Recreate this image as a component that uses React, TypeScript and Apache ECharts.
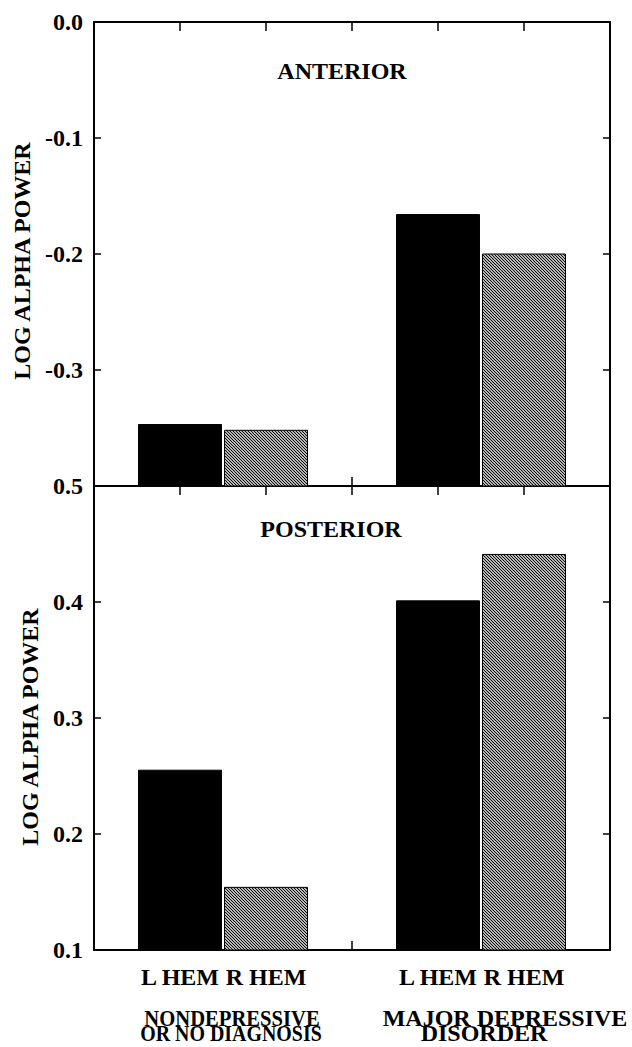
import React, { useEffect, useRef } from 'react';
import * as echarts from 'echarts';

// ---- data ----
const xTickLabels = ['', 'L HEM', 'R HEM', '', 'L HEM', 'R HEM', ''];
const barPositions = [1, 2, 4, 5];
const barKinds = [0, 1, 0, 1]; // 0 = L HEM (black), 1 = R HEM (hatched)
const anteriorValues = [-0.347, -0.352, -0.166, -0.2];
const posteriorValues = [0.255, 0.154, 0.401, 0.441];
const anteriorTickLabels = ['0.0', '-0.1', '-0.2', '-0.3', ''];
const posteriorTickLabels = ['0.5', '0.4', '0.3', '0.2', '0.1'];
const panelTitles = ['ANTERIOR', 'POSTERIOR'];
const yAxisTitle = 'LOG ALPHA POWER';
const groupLabels = [
  ['NONDEPRESSIVE', 'OR NO DIAGNOSIS'],
  ['MAJOR DEPRESSIVE', 'DISORDER'],
];

const FONT_FAMILY = 'Liberation Serif';
const font = (size: number) => `bold ${size}px ${FONT_FAMILY}`;

export default function App() {
  const ref = useRef<HTMLDivElement>(null);

  useEffect(() => {
    document.body.style.margin = '0';
    document.body.style.overflow = 'hidden';
    const el = ref.current!;
    const chart = echarts.init(el, null, { renderer: 'svg' });

    const canvas = document.createElement('canvas');
    canvas.width = 3;
    canvas.height = 3;
    const ctx = canvas.getContext('2d')!;
    ctx.fillStyle = '#ffffff';
    ctx.fillRect(0, 0, 3, 3);
    ctx.strokeStyle = '#000000';
    ctx.lineWidth = 1.1;
    ctx.beginPath();
    ctx.moveTo(-1, -1);
    ctx.lineTo(4, 4);
    ctx.moveTo(-1, 2);
    ctx.lineTo(1, 4);
    ctx.moveTo(2, -1);
    ctx.lineTo(4, 1);
    ctx.stroke();
    const hatch: any = { image: canvas, repeat: 'repeat' };

    const makeRender = (yMin: number) => (params: any, api: any) => {
      const x = api.value(0);
      const v = api.value(1);
      const kind = api.value(2);
      const p0 = api.coord([x, yMin]);
      const p1 = api.coord([x, v]);
      const w = api.size([1, 0])[0] * 0.965;
      return {
        type: 'rect',
        shape: { x: p0[0] - w / 2, y: p1[1], width: w, height: p0[1] - p1[1] },
        style:
          kind === 1
            ? { fill: hatch, stroke: '#000', lineWidth: 1 }
            : { fill: '#000', stroke: '#000', lineWidth: 1 },
      };
    };

    const labelStyle = {
      color: '#000',
      fontFamily: FONT_FAMILY,
      fontWeight: 'bold' as const,
      fontSize: 24,
    };

    const frameLine = { show: true, onZero: false, lineStyle: { color: '#000', width: 2 } };

    const xAxisFor = (gridIndex: number, position: string, showLabels: boolean) => ({
      gridIndex,
      type: 'value',
      min: 0,
      max: 6,
      interval: 1,
      position,
      axisLine: frameLine,
      axisTick: { show: true, inside: true, length: 9, lineStyle: { color: '#000', width: 1.5 } },
      axisLabel: showLabels
        ? {
            show: true,
            margin: 15,
            ...labelStyle,
            formatter: (v: number) => xTickLabels[Math.round(v)] ?? '',
          }
        : { show: false },
      splitLine: { show: false },
    });

    const yAxisFor = (
      gridIndex: number,
      min: number,
      max: number,
      position: string,
      labels: string[] | null
    ) => ({
      gridIndex,
      type: 'value',
      min,
      max,
      interval: 0.1,
      position,
      axisLine: frameLine,
      axisTick: { show: true, inside: true, length: 7, lineStyle: { color: '#000', width: 1.5 } },
      axisLabel: labels
        ? {
            show: true,
            margin: 11,
            ...labelStyle,
            formatter: (v: number) => labels[Math.round((max - v) / 0.1)] ?? '',
          }
        : { show: false },
      splitLine: { show: false },
    });

    const mkData = (vals: number[]) => barPositions.map((x, i) => [x, vals[i], barKinds[i]]);

    const textEl = (
      text: string,
      x: number,
      y: number,
      size: number,
      extra: any = {}
    ) => ({
      type: 'text',
      x,
      y,
      ...extra,
      style: {
        text,
        x: 0,
        y: 0,
        font: font(size),
        fill: '#000',
        align: 'center',
        verticalAlign: 'middle',
        textAlign: 'center',
        textVerticalAlign: 'middle',
      },
    });

    const option: any = {
      animation: false,
      backgroundColor: '#fff',
      textStyle: { fontFamily: FONT_FAMILY },
      grid: [
        { left: 94, top: 22, width: 516, height: 464 },
        { left: 94, top: 486, width: 516, height: 464 },
      ],
      xAxis: [
        xAxisFor(0, 'bottom', false),
        xAxisFor(0, 'top', false),
        xAxisFor(1, 'bottom', true),
        xAxisFor(1, 'top', false),
      ],
      yAxis: [
        yAxisFor(0, -0.4, 0, 'left', anteriorTickLabels),
        yAxisFor(0, -0.4, 0, 'right', null),
        yAxisFor(1, 0.1, 0.5, 'left', posteriorTickLabels),
        yAxisFor(1, 0.1, 0.5, 'right', null),
      ],
      series: [
        {
          type: 'custom',
          name: panelTitles[0],
          xAxisIndex: 0,
          yAxisIndex: 0,
          encode: { x: 0, y: 1 },
          data: mkData(anteriorValues),
          renderItem: makeRender(-0.4),
          z: 1,
        },
        {
          type: 'custom',
          name: panelTitles[1],
          xAxisIndex: 2,
          yAxisIndex: 2,
          encode: { x: 0, y: 1 },
          data: mkData(posteriorValues),
          renderItem: makeRender(0.1),
          z: 1,
        },
      ],
      graphic: [
        textEl(panelTitles[0], 342, 71, 24),
        textEl(panelTitles[1], 331, 529, 24),
        textEl(yAxisTitle, 22, 261, 24, { rotation: Math.PI / 2 }),
        textEl(yAxisTitle, 30, 727, 24, { rotation: Math.PI / 2 }),
        textEl(groupLabels[0][0], 232, 1018, 24, { scaleX: 0.86 }),
        textEl(groupLabels[0][1], 231, 1033, 24, { scaleX: 0.83 }),
        textEl(groupLabels[1][0], 505, 1018, 24),
        textEl(groupLabels[1][1], 484, 1033, 24),
      ],
    };

    chart.setOption(option);
    return () => {
      chart.dispose();
    };
  }, []);

  return <div ref={ref} style={{ width: 632, height: 1047 }} />;
}
